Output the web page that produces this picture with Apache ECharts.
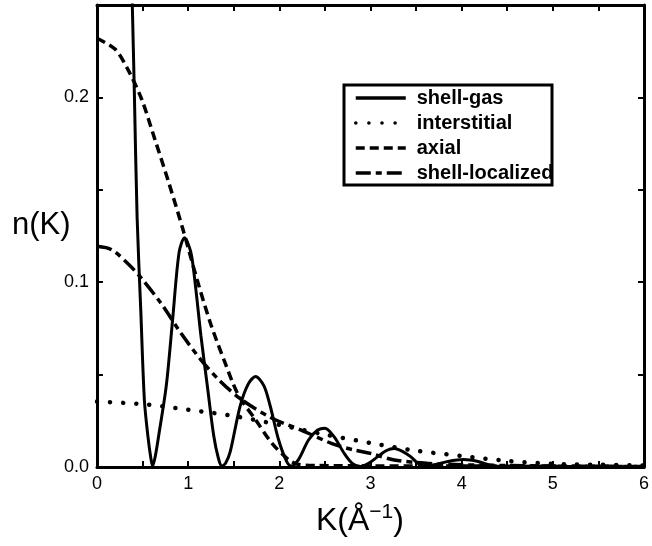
<!DOCTYPE html>
<html>
<head>
<meta charset="utf-8">
<script src="https://cdn.jsdelivr.net/npm/echarts@6/dist/echarts.min.js"></script>
<style>
  html, body { margin: 0; padding: 0; background: #fff; }
  #chart { width: 652px; height: 546px; }
</style>
</head>
<body>
<div id="chart"></div>
<script>
// shell-gas（实线）
var gasK = [0.385, 0.41, 0.44, 0.48, 0.52, 0.56, 0.59, 0.61, 0.64, 0.68, 0.76, 0.83, 0.90, 0.96, 1.03, 1.08, 1.14, 1.21, 1.28, 1.33, 1.37, 1.41, 1.46, 1.57, 1.66, 1.74, 1.83, 1.90, 1.99, 2.08, 2.13, 2.21, 2.32, 2.42, 2.50, 2.60, 2.71, 2.80, 2.89, 2.98, 3.08, 3.17, 3.26, 3.35, 3.44, 3.52, 3.58, 3.70, 3.85, 4.02, 4.18, 4.32, 4.45, 4.8, 5.2, 5.6, 6.0];
var gasN = [0.255, 0.202, 0.135, 0.085, 0.036, 0.016, 0.005, 0.0005, 0.006, 0.018, 0.044, 0.080, 0.116, 0.124, 0.116, 0.098, 0.071, 0.044, 0.017, 0.005, 0.0005, 0.002, 0.008, 0.033, 0.045, 0.049, 0.044, 0.033, 0.015, 0.003, 0.0005, 0.004, 0.0146, 0.020, 0.021, 0.0164, 0.0075, 0.002, 0.0003, 0.002, 0.0056, 0.0088, 0.010, 0.0085, 0.0056, 0.002, 0.0005, 0.0012, 0.003, 0.004, 0.003, 0.001, 0.0003, 0.0006, 0.0003, 0.0002, 0.0001];
// interstitial（点线）
var interK = [0, 0.5, 1.0, 1.5, 2.0, 2.5, 3.0, 3.5, 4.0, 4.5, 5.0, 5.5, 6.0];
var interN = [0.0354, 0.0340, 0.0310, 0.0276, 0.0228, 0.0176, 0.0130, 0.0088, 0.0060, 0.0033, 0.0017, 0.0012, 0.0008];
// axial（短虚线）
var axialK = [0, 0.2, 0.34, 0.49, 0.63, 0.78, 0.94, 1.10, 1.25, 1.40, 1.55, 1.74, 1.92, 2.10, 2.2, 2.4, 3, 4, 5, 6];
var axialN = [0.232, 0.226, 0.215, 0.199, 0.178, 0.155, 0.129, 0.101, 0.077, 0.057, 0.039, 0.0255, 0.0128, 0.004, 0.0015, 0.0008, 0.0006, 0.0005, 0.0004, 0.0003];
// shell-localized（长短虚线）
var locK = [0, 0.16, 0.34, 0.49, 0.70, 0.92, 1.14, 1.36, 1.59, 1.92, 2.24, 2.57, 2.82, 3.0, 3.26, 3.62, 4.0, 4.5, 5, 6];
var locN = [0.1194, 0.1176, 0.110, 0.102, 0.0887, 0.0725, 0.058, 0.046, 0.0363, 0.0264, 0.020, 0.0128, 0.0092, 0.0074, 0.0038, 0.002, 0.0012, 0.0008, 0.0005, 0.0003];

var seriesNames = ['shell-gas', 'interstitial', 'axial', 'shell-localized'];

function pairs(xs, ys) {
  return xs.map(function (x, i) { return [x, ys[i]]; });
}

var FONT = '"Liberation Sans", Arial, Helvetica, sans-serif';
var axisLine = { show: true, onZero: false, lineStyle: { color: '#000', width: 3 } };
var axisTick = { show: true, inside: true, length: 6, lineStyle: { color: '#000', width: 2 } };

var myChart = echarts.init(document.getElementById('chart'));
var option = {
  animation: false,
  backgroundColor: '#fff',
  grid: { left: 97, right: 5, top: 5, bottom: 79 },
  legend: {
    orient: 'vertical',
    left: 354,
    top: 88,
    padding: 0,
    itemWidth: 50,
    itemHeight: 16,
    itemGap: 5,
    itemStyle: { color: 'rgba(0,0,0,0)', borderWidth: 0 }, // 不显示图例里的圆点
    lineStyle: { width: 3.5 },
    textStyle: { fontFamily: FONT, fontWeight: 'bold', fontSize: 20, lineHeight: 16, color: '#000', padding: [0, 0, 0, 6] },
    data: seriesNames
  },
  graphic: [
    { // 图例外框
      type: 'rect',
      shape: { x: 344, y: 85, width: 208, height: 100 },
      style: { fill: null, stroke: '#000', lineWidth: 3 },
      z: 100
    },
    {
      type: 'text',
      left: 12,
      top: 210,
      style: { text: 'n(K)', font: '31px ' + FONT, fill: '#000' }
    },
    {
      type: 'text',
      left: 316,
      top: 502,
      style: {
        text: '{a|K(Å}{b|−1}{a|)}',
        fill: '#000',
        rich: {
          a: { fontFamily: FONT, fontSize: 32, lineHeight: 38 },
          b: { fontFamily: FONT, fontSize: 21, verticalAlign: 'top', lineHeight: 20 }
        }
      }
    }
  ],
  xAxis: [
    {
      type: 'value',
      min: 0,
      max: 6,
      interval: 0.5,
      position: 'bottom',
      axisLine: axisLine,
      axisTick: axisTick,
      splitLine: { show: false },
      axisLabel: {
        margin: 8,
        fontFamily: FONT,
        fontSize: 18,
        color: '#000',
        formatter: function (v) { return v % 1 === 0 ? String(v) : ''; }
      }
    },
    {
      type: 'value',
      min: 0,
      max: 6,
      interval: 0.5,
      position: 'top',
      axisLine: axisLine,
      axisTick: axisTick,
      splitLine: { show: false },
      axisLabel: { show: false }
    }
  ],
  yAxis: [
    {
      type: 'value',
      min: 0,
      max: 0.25,
      interval: 0.05,
      position: 'left',
      axisLine: axisLine,
      axisTick: axisTick,
      splitLine: { show: false },
      axisLabel: {
        margin: 8,
        fontFamily: FONT,
        fontSize: 18,
        color: '#000',
        formatter: function (v) {
          return Math.abs(v * 10 - Math.round(v * 10)) < 1e-6 ? v.toFixed(1) : '';
        }
      }
    },
    {
      type: 'value',
      min: 0,
      max: 0.25,
      interval: 0.05,
      position: 'right',
      axisLine: axisLine,
      axisTick: axisTick,
      splitLine: { show: false },
      axisLabel: { show: false }
    }
  ],
  series: [
    {
      name: 'shell-gas',
      type: 'line',
      symbol: 'none',
      smooth: 0.3,
      lineStyle: { color: '#000', width: 3 },
      itemStyle: { color: '#000' },
      data: pairs(gasK, gasN)
    },
    {
      name: 'interstitial',
      type: 'line',
      symbol: 'none',
      smooth: 0.3,
      lineStyle: { color: '#000', width: 4.5, type: [0.1, 13], cap: 'round' },
      itemStyle: { color: '#000' },
      data: pairs(interK, interN)
    },
    {
      name: 'axial',
      type: 'line',
      symbol: 'none',
      smooth: 0.3,
      lineStyle: { color: '#000', width: 3.5, type: [9, 5] },
      itemStyle: { color: '#000' },
      data: pairs(axialK, axialN)
    },
    {
      name: 'shell-localized',
      type: 'line',
      symbol: 'none',
      smooth: 0.3,
      lineStyle: { color: '#000', width: 3.5, type: [15, 5, 6, 5] },
      itemStyle: { color: '#000' },
      data: pairs(locK, locN)
    }
  ]
};
myChart.setOption(option);
</script>
</body>
</html>
